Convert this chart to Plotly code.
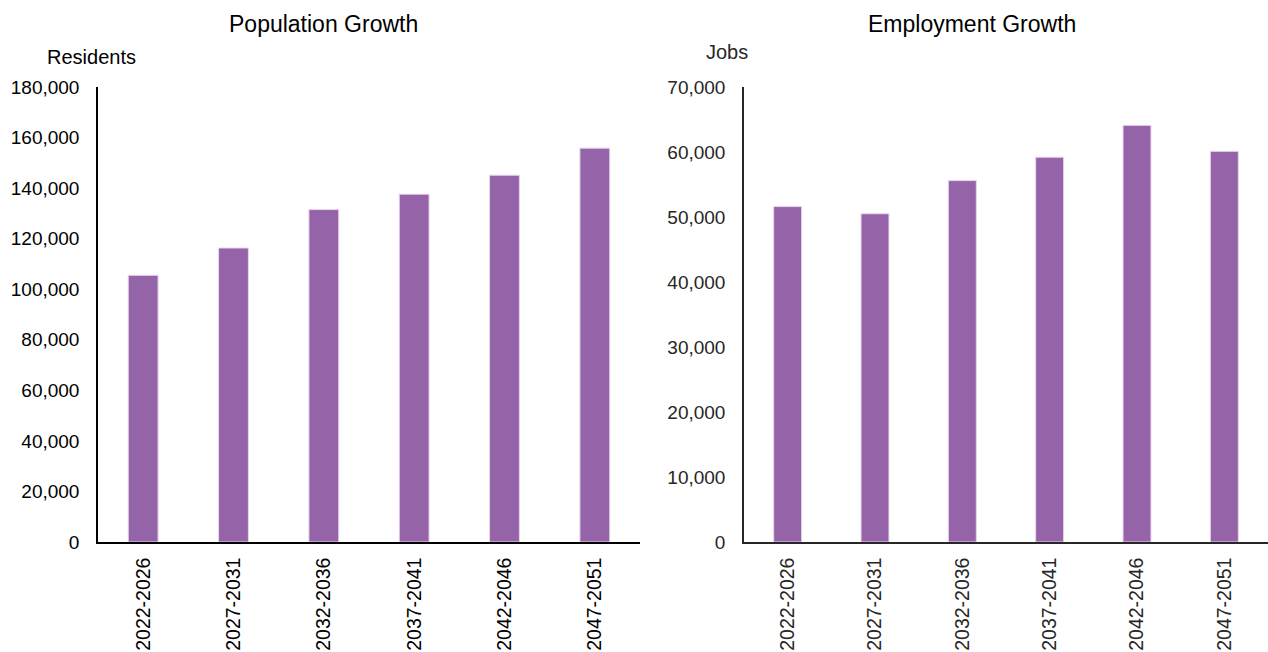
import plotly.graph_objects as go

periods = ["2022-2026", "2027-2031", "2032-2036", "2037-2041", "2042-2046", "2047-2051"]
population = [105500, 116300, 131500, 137600, 145100, 155800]
employment = [51600, 50500, 55600, 59200, 64100, 60100]

pop_ticks = [0, 20000, 40000, 60000, 80000, 100000, 120000, 140000, 160000, 180000]
job_ticks = [0, 10000, 20000, 30000, 40000, 50000, 60000, 70000]

BAR = "#9563A8"
EDGE = "#E6D5EC"
FONT = "Liberation Sans, Arial, sans-serif"

fig = go.Figure()
fig.add_trace(go.Bar(x=periods, y=population, xaxis="x", yaxis="y",
                     marker=dict(color=BAR, line=dict(color=EDGE, width=1)),
                     width=0.33, hoverinfo="x+y"))
fig.add_trace(go.Bar(x=periods, y=employment, xaxis="x2", yaxis="y2",
                     marker=dict(color=BAR, line=dict(color=EDGE, width=1)),
                     width=0.32, hoverinfo="x+y"))

W = 1268.0


def axis_style(color, size):
    return dict(showgrid=False, zeroline=False, showline=True, linewidth=1.5,
                linecolor=color, ticks="",
                tickfont=dict(family=FONT, size=size, color=color))


fig.update_layout(
    width=1268, height=652,
    margin=dict(l=0, r=0, t=87, b=110),
    paper_bgcolor="white", plot_bgcolor="white",
    showlegend=False,
    font=dict(family=FONT, color="#000000"),
    xaxis=dict(domain=[98 / W, 640 / W], anchor="y", tickangle=-90,
               ticklabelstandoff=6, **axis_style("#000000", 19.5)),
    yaxis=dict(domain=[0, 1], anchor="x", range=[0, 180000], tickvals=pop_ticks,
               tickformat=",d", ticklabelstandoff=13, **axis_style("#000000", 19)),
    xaxis2=dict(domain=[744 / W, 1.0], anchor="y2", tickangle=-90,
                ticklabelstandoff=6, **axis_style("#262626", 19.5)),
    yaxis2=dict(domain=[0, 1], anchor="x2", range=[0, 70000], tickvals=job_ticks,
                tickformat=",d", ticklabelstandoff=13, **axis_style("#262626", 19)),
    annotations=[
        dict(text="Population Growth", x=323 / W, y=24, xref="paper", yref="paper",
             showarrow=False, font=dict(family=FONT, size=23, color="#000000")),
        dict(text="Employment Growth", x=972 / W, y=24, xref="paper", yref="paper",
             showarrow=False, font=dict(family=FONT, size=23, color="#000000")),
        dict(text="Residents", x=91 / W, y=57, xref="paper", yref="paper",
             showarrow=False, font=dict(family=FONT, size=20, color="#000000")),
        dict(text="Jobs", x=727 / W, y=52, xref="paper", yref="paper",
             showarrow=False, font=dict(family=FONT, size=20, color="#262626")),
    ],
)

# convert pixel y positions of annotations to paper coords
plot_h = 652 - 87 - 110
for a in fig.layout.annotations:
    py = a.y
    a.y = (652 - 110 - py) / plot_h
    a.yanchor = "middle"
    a.xanchor = "center"

fig.write_html("out.html")
